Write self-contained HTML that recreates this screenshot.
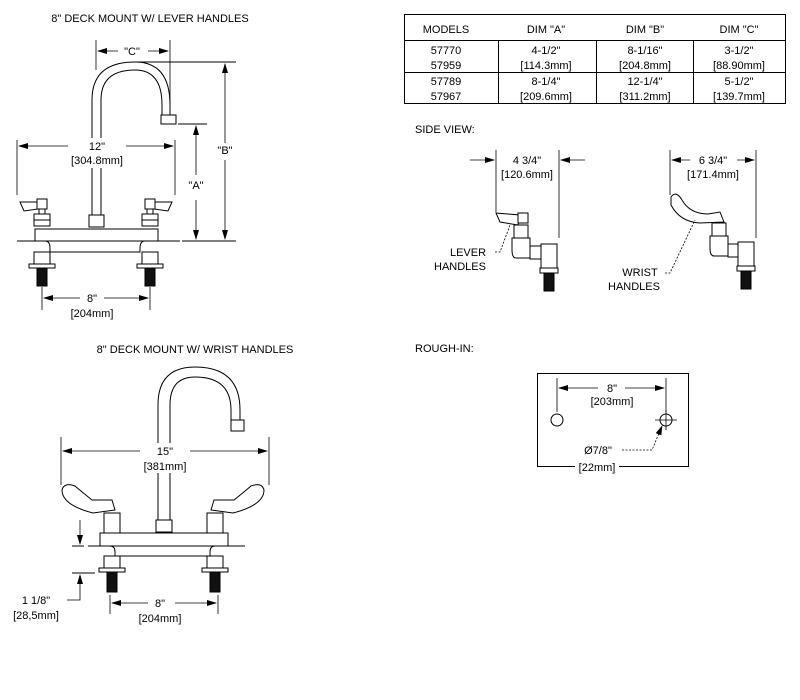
<!DOCTYPE html>
<html><head><style>
html,body{margin:0;padding:0;background:#fff}
svg{display:block}
text{font-family:"Liberation Sans",sans-serif;font-size:11px;fill:#000}
.t{text-anchor:middle}
</style></head><body>
<svg width="800" height="700" viewBox="0 0 800 700" xmlns="http://www.w3.org/2000/svg">
<defs>
<marker id="a" markerWidth="10" markerHeight="6" refX="9" refY="3" orient="auto" markerUnits="userSpaceOnUse"><path d="M0,0 L10,3 L0,6 z" fill="#000"/></marker>
<g id="handleL" fill="#fff" stroke="#000" stroke-width="1">
 <path d="M-22,-27 L-4,-27 L-4,-20 L-18,-18 Z"/>
 <rect x="-5" y="-30" width="10" height="10"/>
 <rect x="-3" y="-20" width="6" height="5"/>
 <rect x="-8" y="-15" width="16" height="12"/>
 <line x1="-8" y1="-9" x2="8" y2="-9"/>
</g>
<g id="shank" stroke="#000" stroke-width="1" fill="#fff">
 <rect x="-8" y="0" width="16" height="12"/>
 <rect x="-13" y="12" width="26" height="4"/>
 <rect x="-5" y="16" width="10" height="18" fill="#111"/>
</g>
</defs>

<!-- TOP LEFT -->
<text x="150" y="22" class="t">8" DECK MOUNT W/ LEVER HANDLES</text>
<g fill="none" stroke="#000" stroke-width="1">
 <path d="M92,220 L92,100 Q92,62 135,62 Q170,62 170,105 L170,115"/>
 <path d="M101,220 L101,100 Q101,70 135,70 Q162,70 162,105 L162,115"/>
 <rect x="161" y="115" width="15" height="9" fill="#fff"/>
 <rect x="89" y="215" width="15" height="12" fill="#fff"/>
 <path d="M35,229 L158,229 L158,241 L145,241 Q140,241 140,248 L140,252 L50,252 L50,248 Q50,241 45,241 L35,241 Z" fill="#fff"/>
 <line x1="17" y1="241" x2="180" y2="241"/>
 <line x1="182" y1="241" x2="236" y2="241"/>
 <line x1="178" y1="124" x2="207" y2="124"/>
 <line x1="137" y1="62" x2="236" y2="62"/>
</g>
<use href="#handleL" x="42" y="229"/>
<use href="#handleL" x="150" y="229" transform="translate(300,0) scale(-1,1)"/>
<use href="#shank" x="42" y="252"/>
<use href="#shank" x="150" y="252"/>
<g stroke="#000" stroke-width="0.8" fill="none">
 <line x1="96" y1="40" x2="96" y2="70"/>
 <line x1="170" y1="40" x2="170" y2="110"/>
 <line x1="17" y1="140" x2="17" y2="195"/>
 <line x1="175" y1="140" x2="175" y2="195"/>
 <line x1="42" y1="287" x2="42" y2="310"/>
 <line x1="150" y1="287" x2="150" y2="310"/>
</g>
<g stroke="#000" stroke-width="0.8" fill="none" marker-end="url(#a)">
 <line x1="118" y1="51" x2="98" y2="51"/>
 <line x1="148" y1="51" x2="168" y2="51"/>
 <line x1="80" y1="146" x2="19" y2="146"/>
 <line x1="112" y1="146" x2="173" y2="146"/>
 <line x1="196" y1="175" x2="196" y2="126"/>
 <line x1="196" y1="200" x2="196" y2="239"/>
 <line x1="225" y1="143" x2="225" y2="64"/>
 <line x1="225" y1="160" x2="225" y2="239"/>
 <line x1="80" y1="298" x2="44" y2="298"/>
 <line x1="104" y1="298" x2="148" y2="298"/>
</g>
<rect x="68" y="138" width="58" height="30" fill="#fff"/>
<text x="132" y="55" class="t" font-size="12">"C"</text>
<text x="97" y="150" class="t" font-size="12">12"</text>
<text x="97" y="164" class="t" font-size="12">[304.8mm]</text>
<text x="196" y="189" class="t" font-size="12">"A"</text>
<text x="225" y="154" class="t" font-size="12">"B"</text>
<text x="92" y="302" class="t" font-size="12">8"</text>
<text x="92" y="317" class="t" font-size="12">[204mm]</text>

<!-- BOTTOM LEFT -->
<text x="195" y="353" class="t">8" DECK MOUNT W/ WRIST HANDLES</text>
<g fill="none" stroke="#000" stroke-width="1">
 <path d="M158,520 L158,405 Q158,367 195,367 Q240,367 240,410 L240,420"/>
 <path d="M170,520 L170,405 Q170,377 195,377 Q231,377 231,410 L231,420"/>
 <rect x="231" y="420" width="13" height="11" fill="#fff"/>
 <rect x="156" y="520" width="16" height="12" fill="#fff"/>
 <path d="M100,533 L228,533 L228,546 L215,546 Q210,546 210,552 L210,556 L115,556 L115,552 Q115,546 110,546 L100,546 Z" fill="#fff"/>
 <line x1="72" y1="546" x2="84" y2="546"/>
 <line x1="88" y1="546" x2="245" y2="546"/>
 <line x1="72" y1="573" x2="95" y2="573"/>
 <path d="M93,513 Q62,505 62,490 Q64,482 75,486 Q82,492 92,500 L112,500 L115,510 Z" fill="#fff"/>
 <path d="M233,513 Q264,505 264,490 Q262,482 251,486 Q244,492 234,500 L214,500 L211,510 Z" fill="#fff"/>
 <rect x="104" y="513" width="16" height="20" fill="#fff"/>
 <rect x="207" y="513" width="16" height="20" fill="#fff"/>
</g>
<g stroke="#000" stroke-width="1" fill="#fff">
 <rect x="104" y="556" width="16" height="12"/>
 <rect x="99" y="568" width="26" height="4"/>
 <rect x="107" y="572" width="10" height="20" fill="#111"/>
 <rect x="207" y="556" width="16" height="12"/>
 <rect x="202" y="568" width="26" height="4"/>
 <rect x="210" y="572" width="10" height="20" fill="#111"/>
</g>
<g stroke="#000" stroke-width="0.8" fill="none">
 <line x1="61" y1="437" x2="61" y2="485"/>
 <line x1="269" y1="437" x2="269" y2="485"/>
 <line x1="110" y1="595" x2="110" y2="614"/>
 <line x1="218" y1="595" x2="218" y2="614"/>
</g>
<g stroke="#000" stroke-width="0.8" fill="none" marker-end="url(#a)">
 <line x1="150" y1="451" x2="63" y2="451"/>
 <line x1="180" y1="451" x2="267" y2="451"/>
 <line x1="80" y1="520" x2="80" y2="544"/>
 <line x1="148" y1="603" x2="112" y2="603"/>
 <line x1="175" y1="603" x2="216" y2="603"/>
 <polyline points="67,600 80,600 80,575"/>
</g>
<rect x="140" y="443" width="50" height="30" fill="#fff"/>
<text x="165" y="455" class="t" font-size="12">15"</text>
<text x="165" y="470" class="t" font-size="12">[381mm]</text>
<text x="160" y="607" class="t" font-size="12">8"</text>
<text x="160" y="622" class="t" font-size="12">[204mm]</text>
<text x="36" y="604" class="t" font-size="12">1 1/8"</text>
<text x="36" y="619" class="t" font-size="12">[28,5mm]</text>

<!-- TABLE -->
<g stroke="#000" stroke-width="1" fill="none">
 <rect x="404.5" y="14.5" width="381" height="89"/>
 <line x1="404" y1="40.5" x2="786" y2="40.5"/>
 <line x1="404" y1="72.5" x2="786" y2="72.5"/>
 <line x1="498.5" y1="40" x2="498.5" y2="104"/>
 <line x1="596.5" y1="40" x2="596.5" y2="104"/>
 <line x1="693.5" y1="40" x2="693.5" y2="104"/>
</g>
<g class="t" font-size="11">
<text x="446" y="33" class="t">MODELS</text><text x="546" y="33" class="t">DIM "A"</text><text x="645" y="33" class="t">DIM "B"</text><text x="739" y="33" class="t">DIM "C"</text>
<text x="446" y="54" class="t">57770</text><text x="446" y="69" class="t">57959</text>
<text x="546" y="54" class="t">4-1/2"</text><text x="546" y="69" class="t">[114.3mm]</text>
<text x="645" y="54" class="t">8-1/16"</text><text x="645" y="69" class="t">[204.8mm]</text>
<text x="739" y="54" class="t">3-1/2"</text><text x="739" y="69" class="t">[88.90mm]</text>
<text x="446" y="85" class="t">57789</text><text x="446" y="100" class="t">57967</text>
<text x="546" y="85" class="t">8-1/4"</text><text x="546" y="100" class="t">[209.6mm]</text>
<text x="645" y="85" class="t">12-1/4"</text><text x="645" y="100" class="t">[311.2mm]</text>
<text x="739" y="85" class="t">5-1/2"</text><text x="739" y="100" class="t">[139.7mm]</text>
</g>

<!-- SIDE VIEW -->
<text x="415" y="133">SIDE VIEW:</text>
<g stroke="#000" stroke-width="0.8" fill="none">
 <line x1="496" y1="150" x2="496" y2="212"/>
 <line x1="559" y1="150" x2="559" y2="238"/>
 <line x1="670" y1="150" x2="670" y2="195"/>
 <line x1="756" y1="150" x2="756" y2="238"/>
</g>
<g stroke="#000" stroke-width="0.8" fill="none" marker-end="url(#a)">
 <line x1="470" y1="160" x2="494" y2="160"/>
 <line x1="585" y1="160" x2="561" y2="160"/>
 <line x1="690" y1="160" x2="672" y2="160"/>
 <line x1="737" y1="160" x2="754" y2="160"/>
</g>
<text x="527" y="164" class="t" font-size="12">4 3/4"</text>
<text x="527" y="178" class="t" font-size="12">[120.6mm]</text>
<text x="713" y="164" class="t" font-size="12">6 3/4"</text>
<text x="713" y="178" class="t" font-size="12">[171.4mm]</text>
<g stroke="#000" stroke-width="1" fill="#fff">
 <path d="M496,213 L520,215 L518,225 L500,222 Z"/>
 <rect x="518" y="213" width="10" height="10"/>
 <rect x="514" y="225" width="14" height="13"/>
 <path d="M512,238 L530,238 L530,258 L516,258 Q512,258 512,250 Z"/>
 <rect x="530" y="246" width="11" height="13"/>
 <rect x="541" y="244" width="16" height="24"/>
 <rect x="540" y="268" width="18" height="5"/>
 <rect x="544" y="273" width="10" height="18" fill="#111"/>
 <path d="M671,197 Q676,190 682,200 Q690,214 708,214 L720,212 L724,222 L700,223 Q680,222 671,205 Z"/>
 <rect x="712" y="223" width="14" height="13"/>
 <path d="M710,236 L728,236 L728,256 L714,256 Q710,256 710,248 Z"/>
 <rect x="728" y="244" width="10" height="13"/>
 <rect x="738" y="242" width="16" height="24"/>
 <rect x="737" y="266" width="18" height="5"/>
 <rect x="741" y="271" width="10" height="18" fill="#111"/>
</g>
<g stroke="#000" stroke-width="0.8" stroke-dasharray="2,1.5" fill="none">
 <polyline points="495,252 500,252 510,225"/>
 <polyline points="665,273 670,273 695,220"/>
</g>
<text x="468" y="256" class="t" font-size="12">LEVER</text>
<text x="460" y="270" class="t" font-size="12">HANDLES</text>
<text x="640" y="276" class="t" font-size="12">WRIST</text>
<text x="634" y="290" class="t" font-size="12">HANDLES</text>

<!-- ROUGH-IN -->
<text x="415" y="352">ROUGH-IN:</text>
<rect x="537.5" y="373.5" width="151" height="93" fill="none" stroke="#000"/>
<line x1="557" y1="378" x2="557" y2="412" stroke="#000" stroke-width="0.8"/>
<line x1="666" y1="378" x2="666" y2="412" stroke="#000" stroke-width="0.8"/>
<circle cx="557" cy="420" r="6" fill="none" stroke="#000"/>
<circle cx="666" cy="420" r="6" fill="none" stroke="#000"/>
<line x1="655" y1="420" x2="677" y2="420" stroke="#000" stroke-width="0.8"/>
<line x1="666" y1="410" x2="666" y2="430" stroke="#000" stroke-width="0.8"/>
<g stroke="#000" stroke-width="0.8" fill="none" marker-end="url(#a)">
 <line x1="598" y1="388" x2="559" y2="388"/>
 <line x1="625" y1="388" x2="664" y2="388"/>
 <polyline points="622,450 652,450 662,426" stroke-dasharray="2,1.5"/>
</g>
<text x="612" y="392" class="t" font-size="12">8"</text>
<text x="612" y="405" class="t">[203mm]</text>
<text x="598" y="454" class="t" font-size="12">Ø7/8"</text>
<rect x="575" y="461" width="44" height="12" fill="#fff"/>
<text x="597" y="471" class="t">[22mm]</text>
</svg>
</body></html>
